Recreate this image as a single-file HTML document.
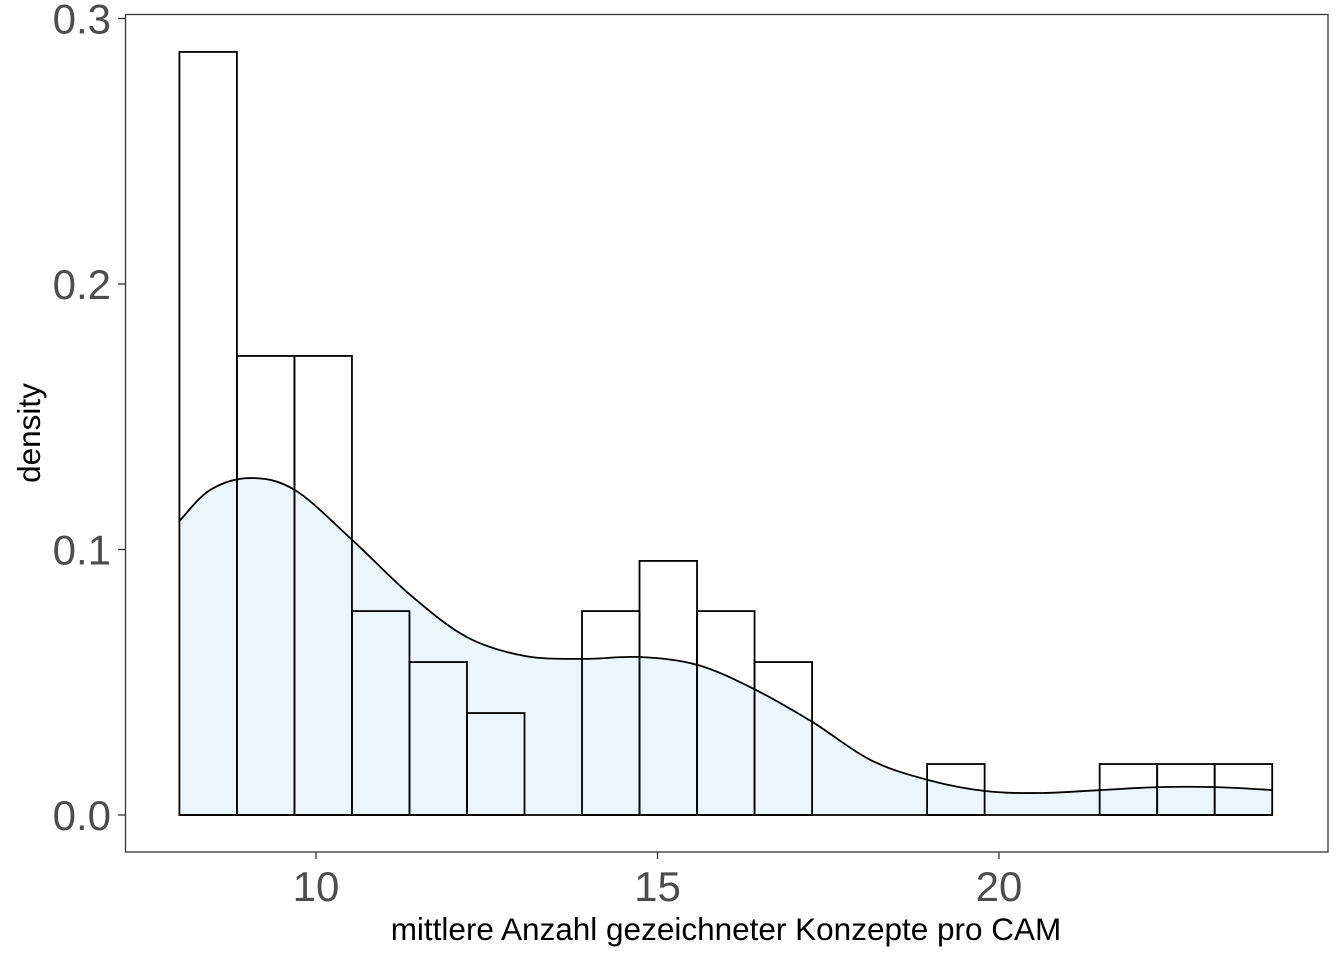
<!DOCTYPE html>
<html><head><meta charset="utf-8"><style>
html,body{margin:0;padding:0;background:#fff;width:1344px;height:960px;overflow:hidden}
svg text{font-family:"Liberation Sans",Arial,sans-serif}
</style></head><body>
<svg id="chart" width="1344" height="960" xmlns="http://www.w3.org/2000/svg"></svg>
<script>
const binStart = 8;
const binWidth = 16/19;
const densities = [0.2874,0.1729,0.1729,0.0768,0.0576,0.0384,0,0.0768,0.0957,0.0768,0.0576,0,0,0.0192,0,0,0.0192,0.0192,0.0192];
const curveX = [8.0,8.45,9.04,9.69,10.53,11.38,12.21,13.06,13.91,14.74,15.59,16.44,17.27,18.12,18.96,19.81,20.64,21.49,22.34,23.17,24.0];
const curveY = [0.1107,0.1224,0.1269,0.1224,0.1036,0.0829,0.0670,0.0599,0.0588,0.0595,0.0565,0.0471,0.0350,0.0207,0.0132,0.0090,0.0083,0.0094,0.0105,0.0105,0.0094];
const xTicks = [10,15,20];
const yTicks = [0.0,0.1,0.2,0.3];
const yTickLabels = ["0.0","0.1","0.2","0.3"];

const NS="http://www.w3.org/2000/svg";
const svg=document.getElementById('chart');
const X=v=>316+(v-10)*68.3;
const Y=v=>815-v*2655;
function mk(t,a){const e=document.createElementNS(NS,t);for(const k in a)e.setAttribute(k,a[k]);svg.appendChild(e);return e;}

const panel=mk('rect',{x:125.5,y:14.5,width:1202.5,height:837.5,fill:'#fff',stroke:'#333','stroke-width':1.3});



densities.forEach((d,i)=>{
  const x0=X(binStart+i*binWidth),x1=X(binStart+(i+1)*binWidth);
  const r=mk('rect',{x:x0,y:Y(d),width:x1-x0,height:Y(0)-Y(d),fill:'#fff',stroke:'none'});
  
  
});

// smooth path via Catmull-Rom
const pts=curveX.map((x,i)=>[X(x),Y(curveY[i])]);
function smooth(pts){
  let d='';
  for(let i=0;i<pts.length-1;i++){
    const p0=pts[Math.max(0,i-1)],p1=pts[i],p2=pts[i+1],p3=pts[Math.min(pts.length-1,i+2)];
    const c1=[p1[0]+(p2[0]-p0[0])/6,p1[1]+(p2[1]-p0[1])/6];
    const c2=[p2[0]-(p3[0]-p1[0])/6,p2[1]-(p3[1]-p1[1])/6];
    d+=' C'+c1[0]+','+c1[1]+' '+c2[0]+','+c2[1]+' '+p2[0]+','+p2[1];
  }
  return d;
}
const sm=smooth(pts);
const area=mk('path',{d:'M'+pts[0][0]+','+Y(0)+' L'+pts[0][0]+','+pts[0][1]+sm+' L'+pts[pts.length-1][0]+','+Y(0)+' Z',fill:'#eef5f8',stroke:'none'});



densities.forEach((d,i)=>{
  const x0=X(binStart+i*binWidth),x1=X(binStart+(i+1)*binWidth);
  const r=mk('rect',{x:x0,y:Y(d),width:x1-x0,height:Y(0)-Y(d),fill:'none',stroke:'#000','stroke-width':1.8});
  
  
});
const base=mk('line',{x1:X(binStart),x2:X(binStart+densities.length*binWidth),y1:Y(0),y2:Y(0),stroke:'#000','stroke-width':1.8});



const line=mk('path',{d:'M'+pts[0][0]+','+pts[0][1]+sm,fill:'none',stroke:'#000','stroke-width':1.8});



xTicks.forEach(v=>{
  const t=mk('line',{x1:X(v),x2:X(v),y1:852,y2:859,stroke:'#333','stroke-width':1.3});
  
  
  const l=mk('text',{x:X(v),y:901,'text-anchor':'middle','font-size':42,fill:'#4d4d4d'});
  l.textContent=v;
  
  
});
yTicks.forEach((v,i)=>{
  const t=mk('line',{x1:118,x2:125.5,y1:Y(v),y2:Y(v),stroke:'#333','stroke-width':1.3});
  
  
  const l=mk('text',{x:111,y:Y(v)+15,'text-anchor':'end','font-size':42,fill:'#4d4d4d'});
  l.textContent=yTickLabels[i];
  
  
});
const xt=mk('text',{x:726,y:940,'text-anchor':'middle','font-size':31.5,fill:'#000'});
xt.textContent='mittlere Anzahl gezeichneter Konzepte pro CAM';


const yt=mk('text',{x:0,y:0,'text-anchor':'middle','font-size':31.5,fill:'#000',transform:'translate(40,433) rotate(-90)'});
yt.textContent='density';


</script>
</body></html>
